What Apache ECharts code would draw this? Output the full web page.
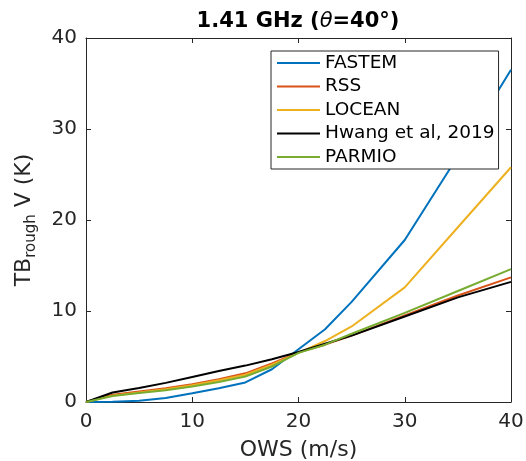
<!DOCTYPE html>
<html>
<head>
<meta charset="utf-8">
<script src="https://cdn.jsdelivr.net/npm/echarts@6/dist/echarts.min.js"></script>
<style>html,body{margin:0;padding:0;background:#fff}#c{width:526px;height:461px}</style>
</head>
<body>
<div id="c"></div>
<script>
const ows    = [0, 2.5, 5, 7.5, 10, 12.5, 15, 17.5, 20, 22.5, 25, 30, 35, 40];
const fastem = [0, 0.03, 0.15, 0.45, 0.95, 1.5, 2.15, 3.6, 5.8, 8.0, 11.0, 17.8, 27.0, 36.5];
const rss    = [0, 0.8, 1.15, 1.5, 1.95, 2.5, 3.15, 4.25, 5.45, 6.3, 7.3, 9.5, 11.7, 13.7];
const locean = [0, 0.7, 1.05, 1.4, 1.85, 2.4, 3.0, 4.1, 5.4, 6.7, 8.3, 12.6, 19.2, 25.8];
const hwang  = [0, 1.05, 1.55, 2.1, 2.75, 3.4, 4.0, 4.7, 5.5, 6.4, 7.3, 9.4, 11.5, 13.2];
const parmio = [0, 0.65, 1.0, 1.3, 1.7, 2.2, 2.8, 3.9, 5.4, 6.3, 7.5, 9.8, 12.2, 14.6];
const names  = ['FASTEM', 'RSS', 'LOCEAN', 'Hwang et al, 2019', 'PARMIO'];
const colors = ['#0072BD', '#D95319', '#EDB120', '#000000', '#77AC30'];
const values = [fastem, rss, locean, hwang, parmio];
const xTicks = [0, 10, 20, 30, 40];
const yTicks = [0, 10, 20, 30, 40];

const axisColor = '#262626';
const font = 'DejaVu Sans';
const pair = (arr) => ows.map((x, i) => [x, arr[i]]);

function axisBase(min, max, interval) {
  return {
    type: 'value', min: min, max: max, interval: interval,
    axisLine: { show: true, onZero: false, lineStyle: { color: axisColor, width: 1 } },
    axisTick: { show: true, inside: true, length: 5, lineStyle: { color: axisColor } },
    splitLine: { show: false }
  };
}

const chart = echarts.init(document.getElementById('c'));
chart.setOption({
  animation: false,
  backgroundColor: '#fff',
  textStyle: { fontFamily: font },
  title: {
    text: '{b|1.41 GHz (}{i|θ}{b|=40°)}',
    left: 298, top: 11, textAlign: 'center', padding: 0,
    textStyle: {
      rich: {
        b: { fontFamily: font, fontSize: 21, fontWeight: 'bold', color: '#000' },
        i: { fontFamily: font, fontSize: 21, fontStyle: 'italic', fontWeight: 'normal', color: '#000' }
      }
    }
  },
  grid: { left: 86, right: 15, top: 38, bottom: 59, containLabel: false, outerBoundsMode: 'none' },
  legend: {
    orient: 'vertical', left: 271, top: 51,
    icon: 'rect',
    itemWidth: 43, itemHeight: 2, itemGap: 1.5, itemTextGap: 6,
    padding: [1, 4, 1, 6],
    borderColor: axisColor, borderWidth: 1, borderRadius: 0, backgroundColor: '#fff',
    textStyle: { fontFamily: font, fontSize: 18.5, color: '#000', lineHeight: 22 },
    data: names
  },
  xAxis: [
    Object.assign(axisBase(xTicks[0], xTicks[xTicks.length - 1], xTicks[1] - xTicks[0]), {
      position: 'bottom',
      axisLabel: { fontFamily: font, fontSize: 20, color: axisColor, margin: 10 },
      name: 'OWS (m/s)', nameLocation: 'middle', nameGap: 37,
      nameTextStyle: { fontFamily: font, fontSize: 22, color: axisColor }
    }),
    Object.assign(axisBase(xTicks[0], xTicks[xTicks.length - 1], xTicks[1] - xTicks[0]), {
      position: 'top', axisLabel: { show: false }
    })
  ],
  yAxis: [
    Object.assign(axisBase(yTicks[0], yTicks[yTicks.length - 1], yTicks[1] - yTicks[0]), {
      position: 'left',
      axisLabel: { fontFamily: font, fontSize: 20, color: axisColor, margin: 9 },
      name: '{m|TB}{s|rough}{m| V (K)}', nameLocation: 'middle', nameGap: 47, nameRotate: 90,
      nameTextStyle: {
        color: axisColor,
        rich: {
          m: { fontFamily: font, fontSize: 22, color: axisColor, lineHeight: 30 },
          s: { fontFamily: font, fontSize: 15, color: axisColor, lineHeight: 15, verticalAlign: 'bottom' }
        }
      }
    }),
    Object.assign(axisBase(yTicks[0], yTicks[yTicks.length - 1], yTicks[1] - yTicks[0]), {
      position: 'right', axisLabel: { show: false }
    })
  ],
  series: names.map((n, k) => ({
    name: n, type: 'line', data: pair(values[k]),
    xAxisIndex: 0, yAxisIndex: 0,
    symbol: 'none', smooth: false, clip: true,
    lineStyle: { color: colors[k], width: 2 },
    itemStyle: { color: colors[k] }
  }))
});
</script>
</body>
</html>
